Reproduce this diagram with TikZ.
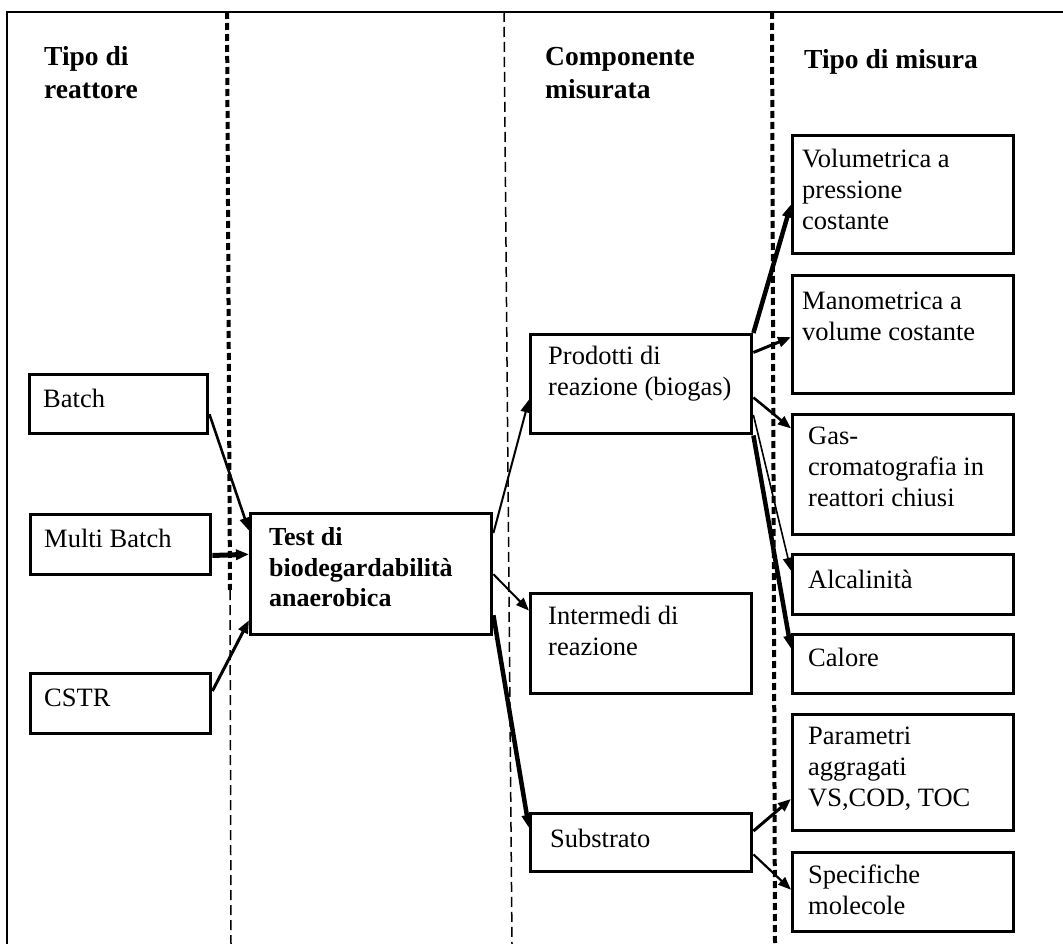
\documentclass[tikz,border=0pt]{standalone}
\usepackage{fontspec}
\setmainfont{Liberation Serif}
\usetikzlibrary{arrows.meta,calc}
\tikzset{
  box/.style={draw, line width=3.4pt, inner sep=0pt, anchor=north west, rectangle},
  txt/.style={anchor=north west, align=left, inner sep=0pt,
    font=\fontsize{26.5}{31}\selectfont, xshift=17pt, yshift={21.7pt-#1pt}},
  txt/.default=32,
  btxt/.style={txt=#1, font=\fontsize{26}{30.5}\selectfont\bfseries},
  head/.style={anchor=north west, align=left, inner sep=0pt,
    font=\fontsize{27.5}{33}\selectfont\bfseries},
  arr/.style={-{Triangle[length=13pt,width=10pt]}, line width=#1},
  arr/.default=2.5pt,
  thickdot/.style={line width=4pt, dash pattern=on 7pt off 4pt},
  thindash/.style={line width=1.5pt, dash pattern=on 10pt off 5pt},
}
\begin{document}
\begin{tikzpicture}[x=1pt,y=-1pt]
\useasboundingbox (0,0) rectangle (1063,944);
\fill[white] (0,0) rectangle (1063,944);
% frame
\draw[line width=2pt] (7,944) -- (7,12) -- (1063,12);
% dividers
\draw[thickdot] (227,12) -- (230,590);
\draw[thindash] (230,590) -- (231,944);
\draw[thindash] (504,12) -- (512,944);
\draw[thickdot] (772,12) -- (775,944);
% headers
\node[head] (h1) at (44,42) {\strut Tipo di\\reattore};
\node[head] (h2) at (545,42) {\strut Componente\\misurata};
\node[head] (h3) at (804,45) {\strut Tipo di misura};
% left column
\node[box, minimum width=178pt, minimum height=59pt,
  label={[txt=34, xshift=-2pt]north west:\strut Batch}] (batch) at (28,373) {};
\node[box, minimum width=180pt, minimum height=60pt,
  label={[txt=34, xshift=-2pt]north west:\strut Multi Batch}] (multi) at (29,513) {};
\node[box, minimum width=180pt, minimum height=60pt,
  label={[txt=34, xshift=-2pt]north west:\strut CSTR}] (cstr) at (29,672) {};
% centre
\node[box, minimum width=241pt, minimum height=121pt,
  label={[btxt=34, xshift=3pt]north west:\strut Test di\\biodegardabilità\\anaerobica}] (test) at (249,512) {};
% components
\node[box, minimum width=221pt, minimum height=99pt,
  label={[txt=31, xshift=2pt]north west:\strut Prodotti di\\reazione (biogas)}] (prod) at (529,333) {};
\node[box, minimum width=221pt, minimum height=100pt,
  label={[txt=32, xshift=2pt]north west:\strut Intermedi di\\reazione}] (inter) at (529,592) {};
\node[box, minimum width=221pt, minimum height=58pt,
  label={[txt=35, xshift=4pt]north west:\strut Substrato}] (sub) at (529,812) {};
% measures
\node[box, minimum width=221pt, minimum height=118pt,
  label={[txt=33, xshift=-6pt]north west:\strut Volumetrica a\\pressione\\costante}] (vol) at (791,134) {};
\node[box, minimum width=221pt, minimum height=118pt,
  label={[txt=35, xshift=-6pt]north west:\strut Manometrica a\\volume costante}] (man) at (791,274) {};
\node[box, minimum width=221pt, minimum height=120pt,
  label={[txt=31]north west:\strut Gas-\\cromatografia in\\reattori chiusi}] (gas) at (791,413) {};
\node[box, minimum width=221pt, minimum height=60pt,
  label={[txt=35]north west:\strut Alcalinità}] (alc) at (791,553) {};
\node[box, minimum width=221pt, minimum height=59pt,
  label={[txt=33]north west:\strut Calore}] (cal) at (791,633) {};
\node[box, minimum width=221pt, minimum height=116pt,
  label={[txt=31]north west:\strut Parametri\\aggragati\\VS,COD, TOC}] (par) at (791,713) {};
\node[box, minimum width=221pt, minimum height=79pt,
  label={[txt=32]north west:\strut Specifiche\\molecole}] (spec) at (791,851) {};
% connectors
\draw[arr=2.6pt] ($(batch.north east)!.66!(batch.south east)$) -- ($(test.north west)!.15!(test.south west)$);
\draw[arr=5pt] ($(multi.north east)!.67!(multi.south east)$) -- ($(test.north west)!.34!(test.south west)$);
\draw[arr=3pt] ($(cstr.north east)!.3!(cstr.south east)$) -- ($(test.north west)!.87!(test.south west)$);
\draw[arr=2pt] ($(test.north east)!.17!(test.south east)$) -- ($(prod.north west)!.65!(prod.south west)$);
\draw[arr=2pt] ($(test.north east)!.5!(test.south east)$) -- ($(inter.north west)!.18!(inter.south west)$);
\draw[arr=4.5pt] ($(test.north east)!.83!(test.south east)$) -- ($(sub.north west)!.26!(sub.south west)$);
\draw[arr=4.5pt] (prod.north east) -- ($(vol.north west)!.58!(vol.south west)$);
\draw[arr=3pt] ($(prod.north east)!.19!(prod.south east)$) -- ($(man.north west)!.52!(man.south west)$);
\draw[arr=2.6pt] ($(prod.north east)!.63!(prod.south east)$) -- ($(gas.north west)!.125!(gas.south west)$);
\draw[arr=1.6pt] ($(prod.north east)!.8!(prod.south east)$) -- ($(alc.north west)!.28!(alc.south west)$);
\draw[arr=4.5pt] (prod.south east) -- ($(cal.north west)!.25!(cal.south west)$);
\draw[arr=3pt] ($(sub.north east)!.31!(sub.south east)$) -- ($(par.north west)!.72!(par.south west)$);
\draw[arr=2.2pt] ($(sub.north east)!.69!(sub.south east)$) -- ($(spec.north west)!.47!(spec.south west)$);
\end{tikzpicture}
\end{document}
